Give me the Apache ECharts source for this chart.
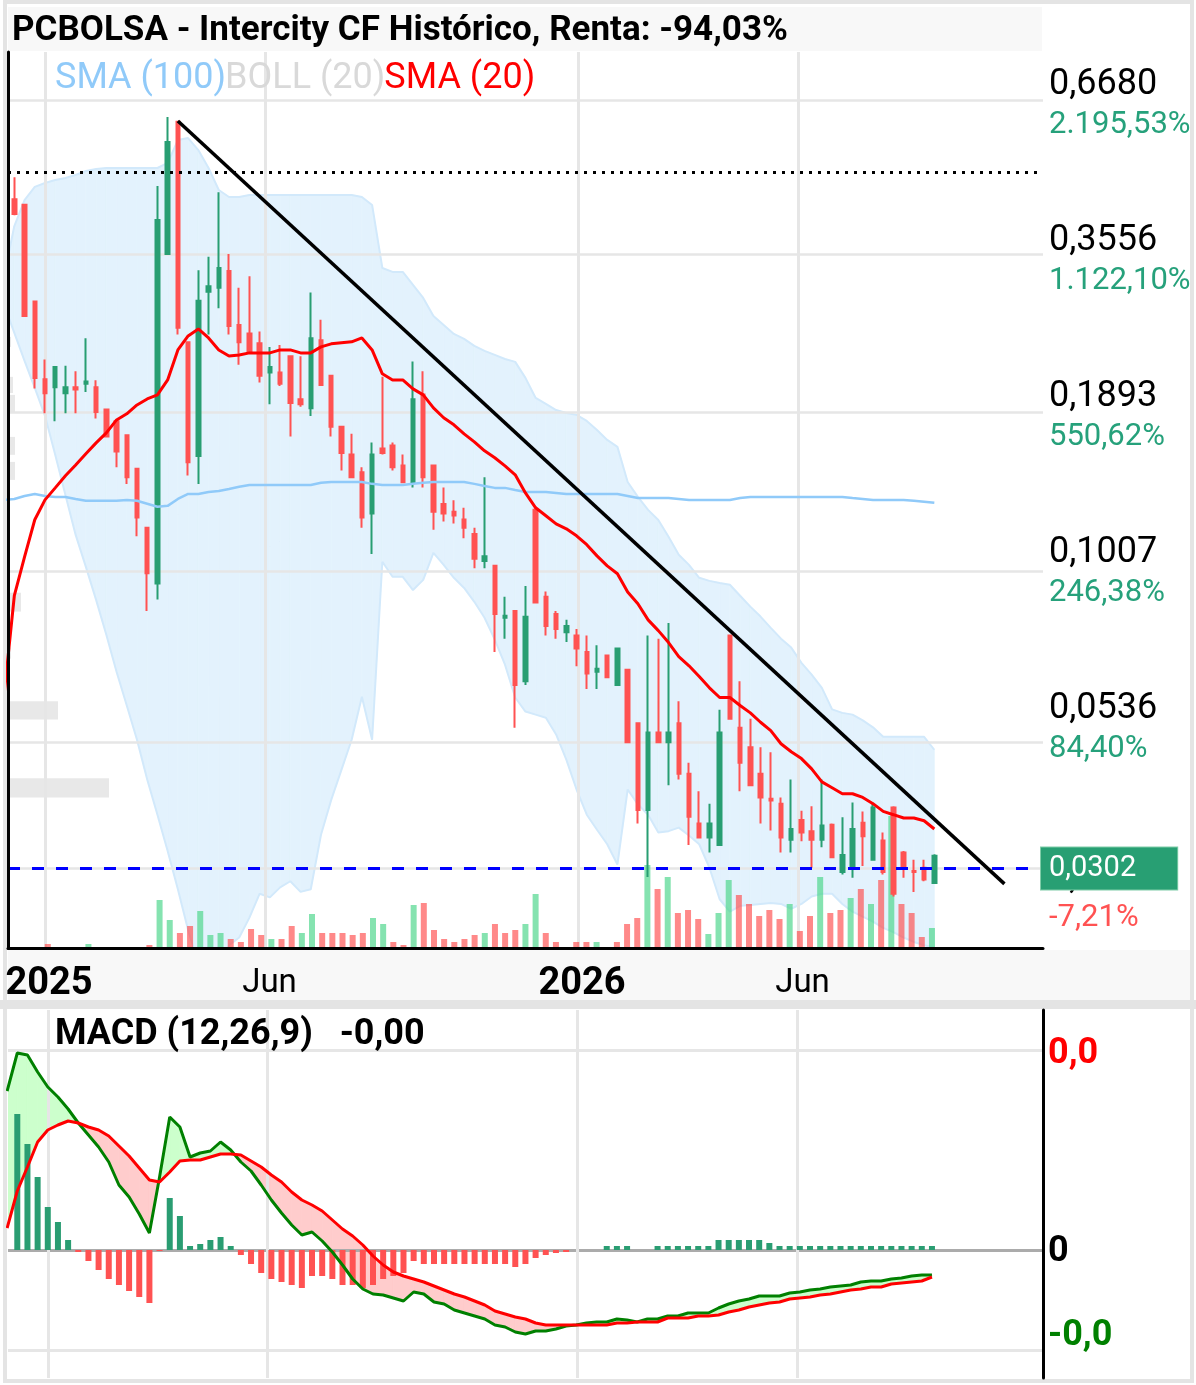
<!DOCTYPE html>
<html><head><meta charset="utf-8">
<script src="https://cdn.jsdelivr.net/npm/echarts@6/dist/echarts.min.js"></script>
<style>html,body{margin:0;padding:0;background:#fff}#c{width:1196px;height:1385px}</style>
</head><body><div id="c"></div>
<script>
// ================= DATA =================
const titleText = 'PCBOLSA - Intercity CF Histórico, Renta: -94,03%';
const macdTitle = 'MACD (12,26,9)   -0,00';
const firstWeek = [2024, 12, 4];   // first weekly bar (just left of the visible window)
const weekCount = 92;              // weekly bars incl. that hidden one

// weekly OHLC (visible bars, from week of 2024-12-11)
const openP = [0.449,0.439,0.297,0.217,0.210,0.205,0.210,0.213,0.210,0.192,
 0.183,0.173,0.151,0.119,0.095,0.360,0.614,0.252,0.159,0.309,
 0.314,0.336,0.270,0.261,0.251,0.223,0.223,0.238,0.200,0.193,
 0.254,0.220,0.179,0.160,0.149,0.126,0.164,0.166,0.153,0.143,
 0.204,0.153,0.131,0.127,0.123,0.116,0.104,0.102,0.0827,0.085,
 0.064,0.128,0.090,0.084,0.078,0.077,0.072,0.0665,0.071,0.063,
 0.067,0.054,0.038,0.052,0.050,0.054,0.044,0.036,0.034,0.033,
 0.077,0.053,0.049,0.044,0.0398,0.039,0.0337,0.0365,0.0349,0.0337,
 0.0358,0.0296,0.0301,0.0361,0.0311,0.0336,0.0384,0.0320,0.0297,0.0301,
 0.0283];
const closeP = [0.423,0.280,0.218,0.205,0.228,0.210,0.208,0.215,0.190,0.172,
 0.162,0.146,0.124,0.099,0.413,0.566,0.267,0.155,0.298,0.316,
 0.340,0.269,0.252,0.242,0.220,0.228,0.213,0.197,0.196,0.256,
 0.212,0.179,0.161,0.146,0.124,0.160,0.161,0.152,0.143,0.200,
 0.146,0.127,0.126,0.125,0.119,0.105,0.106,0.084,0.0834,0.063,
 0.083,0.088,0.080,0.079,0.080,0.073,0.066,0.0673,0.065,0.073,
 0.050,0.038,0.052,0.050,0.052,0.044,0.037,0.034,0.036,0.052,
 0.055,0.046,0.042,0.040,0.0395,0.034,0.0352,0.0347,0.0337,0.0357,
 0.0314,0.0317,0.0352,0.0342,0.0384,0.0296,0.0271,0.0300,0.0296,0.0287,
 0.0316];
const lowP = [0.421,0.280,0.209,0.189,0.183,0.189,0.189,0.206,0.185,0.172,
 0.152,0.142,0.115,0.085,0.089,0.360,0.260,0.147,0.142,0.260,
 0.289,0.260,0.230,0.242,0.214,0.196,0.211,0.172,0.194,0.187,
 0.211,0.172,0.150,0.146,0.119,0.107,0.160,0.150,0.143,0.140,
 0.140,0.118,0.122,0.121,0.114,0.101,0.101,0.072,0.076,0.053,
 0.063,0.088,0.077,0.076,0.075,0.068,0.062,0.062,0.065,0.063,
 0.050,0.036,0.029,0.050,0.042,0.043,0.033,0.034,0.032,0.033,
 0.055,0.041,0.042,0.036,0.035,0.032,0.032,0.0335,0.0301,0.0327,
 0.0314,0.0293,0.0289,0.0303,0.0311,0.0293,0.0268,0.0289,0.0273,0.0285,
 0.0283];
const highP = [0.491,0.439,0.297,0.235,0.228,0.229,0.224,0.256,0.216,0.192,
 0.183,0.173,0.151,0.119,0.474,0.626,0.616,0.252,0.337,0.356,
 0.462,0.360,0.314,0.329,0.263,0.247,0.249,0.238,0.238,0.308,
 0.276,0.220,0.179,0.174,0.152,0.168,0.219,0.168,0.160,0.233,
 0.224,0.153,0.140,0.133,0.129,0.119,0.146,0.102,0.090,0.085,
 0.094,0.129,0.092,0.085,0.082,0.079,0.077,0.074,0.071,0.073,
 0.067,0.054,0.077,0.076,0.081,0.059,0.046,0.041,0.039,0.057,
 0.077,0.064,0.055,0.049,0.048,0.040,0.043,0.0379,0.0386,0.0430,
 0.0360,0.0369,0.0392,0.0378,0.0392,0.0347,0.0386,0.0322,0.0311,0.0311,
 0.0318];

// weekly volume (relative units) and its colour (1 = up, 0 = down)
const volume = [0,0,0,4,0,0,0,4,0,0,
 0,0,0,3,48,28,15,22,37,13,
 15,9,6,19,13,9,9,22,15,34,
 15,15,15,13,15,30,24,6,3,43,
 45,18,9,6,9,13,15,24,15,18,
 24,54,15,6,0,6,6,6,0,6,
 24,30,83,59,71,35,38,29,14,35,
 68,53,44,32,38,29,44,17,32,71,
 35,38,50,59,44,68,132,44,35,11,
 20];
const volumeUp = [0,0,0,0,0,0,0,1,0,0,
 0,0,0,0,1,1,0,0,1,1,
 1,0,0,0,0,1,0,0,1,1,
 0,0,0,0,0,1,1,0,0,1,
 0,0,0,0,0,0,1,0,0,0,
 1,1,0,0,0,0,0,1,0,0,
 0,0,1,0,1,0,0,0,1,1,
 1,0,0,0,0,0,1,0,0,1,
 0,0,1,0,1,0,1,0,0,0,
 1];

// indicators (all weeks, incl. the hidden first one)
const sma20 = [.0605,.0904,.1058,.1229,.1332,.1398,.1468,.1534,.1605,.1677,
 .1746,.1840,.1886,.1955,.2003,.2036,.2163,.2442,.2584,.2658,
 .2563,.2442,.2383,.2393,.2413,.2413,.2413,.2442,.2442,.2413,
 .2413,.2472,.2503,.2513,.2523,.2563,.2442,.2217,.2163,.2163,
 .2086,.2036,.1932,.1856,.1804,.1739,.1684,.1624,.1579,.1528,
 .1474,.1370,.1290,.1249,.1209,.1185,.1152,.1111,.1062,.1020,
 .0988,.0918,.0875,.0820,.0785,.0748,.0707,.0681,.0652,.0623,
 .0599,.0599,.0580,.0563,.0542,.0524,.0497,.0481,.0468,.0449,
 .0426,.0416,.0406,.0406,.0400,.0390,.0378,.0373,.0368,.0368,
 .0364,.0352];
const sma100 = [.1331,.1337,.1353,.1364,.1353,.1348,.1348,.1337,.1327,.1327,
 .1327,.1327,.1331,.1327,.1311,.1295,.1300,.1337,.1364,.1364,
 .1375,.1381,.1392,.1404,.1415,.1415,.1415,.1415,.1415,.1415,
 .1415,.1427,.1432,.1432,.1432,.1432,.1421,.1415,.1415,.1415,
 .1421,.1427,.1432,.1432,.1432,.1432,.1421,.1409,.1398,.1398,
 .1386,.1375,.1375,.1375,.1370,.1364,.1364,.1364,.1364,.1364,
 .1364,.1353,.1342,.1342,.1342,.1342,.1337,.1331,.1331,.1331,
 .1331,.1331,.1342,.1348,.1348,.1348,.1348,.1348,.1348,.1348,
 .1348,.1348,.1348,.1342,.1337,.1331,.1331,.1331,.1331,.1327,
 .1322,.1316];
const bollUpper = [.3294,.4030,.4476,.4721,.4796,.4853,.4893,.4953,.5034,.5074,
 .5095,.5095,.5095,.5095,.5095,.5095,.5200,.5704,.5751,.5478,
 .5095,.4661,.4532,.4532,.4569,.4569,.4569,.4569,.4569,.4569,
 .4569,.4569,.4569,.4569,.4569,.4532,.4388,.3401,.3348,.3348,
 .3176,.3013,.2802,.2702,.2605,.2553,.2482,.2432,.2393,.2354,
 .2327,.2181,.2011,.1963,.1915,.1893,.1878,.1833,.1767,.1697,
 .1650,.1432,.1348,.1279,.1228,.1147,.1067,.1024,.0972,.0960,
 .0952,.0945,.0904,.0865,.0831,.0794,.0760,.0733,.0689,.0657,
 .0623,.0571,.0563,.0559,.0546,.0531,.0511,.0511,.0511,.0511,
 .0511,.0485];
const bollLower = [.2929,.2616,.2336,.2095,.1871,.1598,.1359,.1156,.1016,.0889,
 .0772,.0665,.0580,.0505,.0430,.0373,.0322,.0276,.0234,.0204,
 .0192,.0200,.0220,.0227,.0246,.0271,.0267,.0278,.0285,.0273,
 .0276,.0344,.0396,.0447,.0505,.0601,.0505,.1037,.0976,.0976,
 .0925,.0964,.1075,.1024,.0972,.0933,.0882,.0827,.0757,.0684,
 .0599,.0566,.0559,.0552,.0516,.0466,.0413,.0373,.0351,.0331,
 .0305,.0413,.0389,.0373,.0347,.0349,.0354,.0343,.0331,.0301,
 .0265,.0252,.0258,.0259,.0260,.0261,.0260,.0255,.0260,.0268,
 .0271,.0271,.0260,.0252,.0247,.0242,.0236,.0232,.0227,.0223,
 .0220,.0218];
const macdLine = [.0318,.0394,.0390,.0356,.0326,.0306,.0282,.0254,.0230,.0206,
 .0176,.0130,.0106,.0072,.0034,.0146,.0266,.0246,.0186,.0194,
 .0198,.0216,.0200,.0176,.0158,.0130,.0100,.0074,.0050,.0030,
 .0036,.0018,-.0004,-.0030,-.0058,-.0078,-.0088,-.0090,-.0096,-.0102,
 -.0084,-.0088,-.0104,-.0108,-.0120,-.0126,-.0132,-.0138,-.0150,-.0154,
 -.0164,-.0168,-.0162,-.0162,-.0158,-.0152,-.0150,-.0146,-.0144,-.0144,
 -.0138,-.0140,-.0144,-.0138,-.0138,-.0132,-.0132,-.0126,-.0126,-.0126,
 -.0116,-.0108,-.0102,-.0098,-.0092,-.0092,-.0092,-.0086,-.0084,-.0080,
 -.0078,-.0074,-.0072,-.0070,-.0064,-.0062,-.0062,-.0058,-.0056,-.0052,
 -.0050,-.0050];
const signalLine = [.0044,.0118,.0166,.0216,.0240,.0250,.0258,.0254,.0246,.0240,
 .0228,.0208,.0188,.0164,.0140,.0136,.0156,.0178,.0180,.0180,
 .0186,.0192,.0192,.0190,.0178,.0166,.0150,.0136,.0116,.0100,
 .0090,.0078,.0060,.0042,.0028,.0010,-.0012,-.0030,-.0044,-.0052,
 -.0058,-.0064,-.0072,-.0080,-.0088,-.0094,-.0102,-.0110,-.0122,-.0128,
 -.0134,-.0138,-.0146,-.0150,-.0150,-.0150,-.0150,-.0150,-.0150,-.0150,
 -.0146,-.0146,-.0144,-.0144,-.0144,-.0136,-.0136,-.0136,-.0132,-.0132,
 -.0130,-.0124,-.0120,-.0114,-.0110,-.0106,-.0104,-.0098,-.0096,-.0094,
 -.0090,-.0088,-.0084,-.0080,-.0078,-.0074,-.0074,-.0068,-.0066,-.0064,
 -.0062,-.0054];
// MACD histogram (visible bars)
const macdHist = [.0272,.0212,.0146,.0086,.0056,.0020,-.0004,-.0022,-.0040,-.0058,
 -.0070,-.0082,-.0094,-.0106,-.0002,.0104,.0068,.0008,.0012,.0020,
 .0026,.0008,-.0010,-.0028,-.0046,-.0058,-.0064,-.0070,-.0076,-.0052,
 -.0052,-.0058,-.0070,-.0070,-.0076,-.0070,-.0058,-.0052,-.0046,-.0022,
 -.0028,-.0028,-.0028,-.0028,-.0028,-.0028,-.0028,-.0028,-.0028,-.0034,
 -.0028,-.0016,-.0010,-.0006,-.0004,0,0,0,.0008,.0008,
 .0008,0,0,.0008,.0008,.0008,.0008,.0008,.0008,.0020,
 .0020,.0020,.0020,.0020,.0014,.0008,.0008,.0008,.0008,.0008,
 .0008,.0008,.0008,.0008,.0008,.0008,.0008,.0008,.0008,.0008,
 .0008];

// volume-by-price profile (price bins and relative volume)
const vpHigh = [.5704,.4097,.3001,.2574,.2462,.2190,.2036,.1718,.1553,.1398,.1228,.1075,.0915,.0733,.0590,.0432];
const vpLow  = [.5305,.3808,.2779,.2472,.2317,.2052,.1893,.1598,.1444,.1295,.1133,.1004,.0848,.0701,.0548,.0400];
const vpVol  = [2,2,2,3,2,5,7,7,7,2,1,2,13,3,50,101];

// trend line (two anchor points), reference levels
const trendDates = ['2025-04-02', '2026-10-20'];
const trendValues = [0.616, 0.0282];
const lastPrice = 0.0302;
const refLevel = 0.5034;

// axis ticks
const priceTicks = [0.6680, 0.3556, 0.1893, 0.1007, 0.0536, 0.0270];
const pctLabels = ['2.195,53%', '1.122,10%', '550,62%', '246,38%', '84,40%', '-7,21%'];
const xTickDates = ['2025-01-01', '2025-06-01', '2026-01-01', '2026-06-01'];
const xTickLabels = ['2025', 'Jun', '2026', 'Jun'];
const macdTicks = [0.0396, 0, -0.0168];

// ================= BUILD =================
const UP = '#289E72', DOWN = '#FF5252';
function ts(s) { const p = s.split('-').map(Number); return new Date(p[0], p[1] - 1, p[2]).getTime(); }
const weeks = [];
for (let k = 0; k < weekCount; k++) weeks.push(new Date(firstWeek[0], firstWeek[1] - 1, firstWeek[2] + 7 * k).getTime());
const barDates = weeks.slice(1);
const xMin = new Date(2024, 11, 6, 16).getTime();
const xMax = new Date(2026, 10, 15, 10).getTime();
const fmt4 = v => v.toFixed(4).replace('.', ',');
const macdFmt = v => v === 0 ? '0' : v.toFixed(1).replace('.', ',');

const pair = arr => arr.map((v, i) => [weeks[i], v]);
const segs = (a, b) => a.slice(0, -1).map((v, i) => [weeks[i], v, b[i], weeks[i + 1], a[i + 1], b[i + 1]]);

const mainMarks = priceTicks.map(v => ({
  yAxis: v, lineStyle: { color: '#E6E6E6', width: 2.5, type: 'solid' }, label: { show: false }
})).concat(xTickDates.map((d, i) => ({
  xAxis: ts(d),
  lineStyle: { color: '#E6E6E6', width: 3, type: 'solid' },
  label: { show: true, position: 'start', distance: 16, offset: [4, 0], formatter: '{' + (/^\d+$/.test(xTickLabels[i]) ? 'y' : 'm') + '|' + xTickLabels[i] + '}' }
})));

const macdMarks = macdTicks.map(v => ({
  yAxis: v, lineStyle: { color: v === 0 ? '#ABABAB' : '#E6E6E6', width: 3, type: 'solid' }, label: { show: false }
})).concat(xTickDates.map(d => ({
  xAxis: ts(d), lineStyle: { color: '#E6E6E6', width: 3, type: 'solid' }, label: { show: false }
})));

const txt = (x, y, text, size, color, weight) => ({
  type: 'text', x: x, y: y, silent: true,
  style: { text: text, fill: color, fontSize: size, fontFamily: 'Roboto', fontWeight: weight || 'normal', align: 'left', verticalAlign: 'middle' }
});

const option = {
  animation: false,
  backgroundColor: '#ffffff',
  textStyle: { fontFamily: 'Roboto' },
  title: [
    { text: titleText, left: 12, top: 14, padding: 0, textStyle: { fontSize: 35, fontWeight: 'bold', color: '#000', fontFamily: 'Roboto' } },
    { text: macdTitle, left: 55, top: 1017, padding: 0, textStyle: { fontSize: 36, fontWeight: 'bold', color: '#000', fontFamily: 'Roboto' } }
  ],
  legend: {
    left: 50, top: 61, padding: 0, itemGap: -6, itemWidth: 0, itemHeight: 0, selectedMode: false, icon: 'none',
    textStyle: { fontSize: 36, fontFamily: 'Roboto' },
    data: [
      { name: 'SMA (100)', icon: 'none', textStyle: { color: '#90CAF9' } },
      { name: 'BOLL (20)', icon: 'none', textStyle: { color: '#D9D9D9' } },
      { name: 'SMA (20)', icon: 'none', textStyle: { color: '#FF0000' } }
    ]
  },
  graphic: [
    { type: 'rect', z: 0, silent: true, shape: { x: 8, y: 7, width: 1034, height: 44 }, style: { fill: '#F8F8F8' } },
    { type: 'rect', z: 0, silent: true, shape: { x: 8, y: 950, width: 1183, height: 50 }, style: { fill: '#F8F8F8' } },
    { type: 'rect', z: 0, silent: true, shape: { x: 0, y: 1000, width: 1196, height: 9 }, style: { fill: '#E4E4E4' } },
    { type: 'rect', z: 0, silent: true, shape: { x: 5, y: 2, width: 1187, height: 1379 }, style: { fill: 'none', stroke: '#E4E4E4', lineWidth: 4 } }
  ],
  grid: [
    { left: 8, top: 52, width: 1035, height: 896 },
    { left: 8, top: 748, width: 1035, height: 200 },
    { left: 8, top: 1010, width: 1035, height: 368 }
  ],
  xAxis: [
    { type: 'time', gridIndex: 0, min: xMin, max: xMax, z: 10,
      axisLine: { show: true, onZero: false, lineStyle: { color: '#000', width: 3 } },
      axisTick: { show: false }, axisLabel: { show: false }, splitLine: { show: false } },
    { type: 'time', gridIndex: 1, min: xMin, max: xMax, show: false },
    { type: 'time', gridIndex: 2, min: xMin, max: xMax, axisLine: { show: false }, axisTick: { show: false }, axisLabel: { show: false }, splitLine: { show: false } },
    { type: 'value', gridIndex: 0, min: 0, max: 1035, show: false }
  ],
  yAxis: [
    { type: 'log', gridIndex: 0, position: 'right', min: 0.02176, max: 0.8144, logBase: 10, z: 10,
      axisLine: { show: true, lineStyle: { color: '#000', width: 3 } },
      axisTick: { show: false }, axisLabel: { show: false }, splitLine: { show: false } },
    { type: 'value', gridIndex: 1, min: 0, max: 200, show: false },
    { type: 'value', gridIndex: 2, position: 'right', min: -0.0256, max: 0.048, z: 10,
      axisLine: { show: true, onZero: false, lineStyle: { color: '#000', width: 3 } },
      axisTick: { show: false }, axisLabel: { show: false }, splitLine: { show: false } }
  ],
  series: [
    { // Bollinger band fill
      type: 'custom', name: 'BOLL (20)', xAxisIndex: 0, yAxisIndex: 0, z: 1, clip: true, silent: true,
      data: segs(bollUpper, bollLower), encode: { x: [0, 3], y: [1, 2, 4, 5] },
      renderItem: (params, api) => {
        const a = api.coord([api.value(0), api.value(1)]), b = api.coord([api.value(3), api.value(4)]);
        const c = api.coord([api.value(3), api.value(5)]), d = api.coord([api.value(0), api.value(2)]);
        return { type: 'polygon', shape: { points: [a, b, c, d] }, style: { fill: '#E3F2FD', stroke: '#E3F2FD', lineWidth: 0.8 } };
      }
    },
    { type: 'line', name: 'bollUp', xAxisIndex: 0, yAxisIndex: 0, z: 1.1, data: pair(bollUpper), showSymbol: false, silent: true,
      lineStyle: { color: '#D2E9FB', width: 2 } },
    { type: 'line', name: 'bollLow', xAxisIndex: 0, yAxisIndex: 0, z: 1.1, data: pair(bollLower), showSymbol: false, silent: true,
      lineStyle: { color: '#D2E9FB', width: 2 } },
    { // volume profile
      type: 'custom', name: 'vp', xAxisIndex: 3, yAxisIndex: 0, z: 1.05, silent: true, clip: true,
      data: vpVol.map((v, i) => [v, vpHigh[i], vpLow[i]]), encode: { x: 0, y: [1, 2] },
      renderItem: (params, api) => {
        const p1 = api.coord([0, api.value(1)]), p2 = api.coord([api.value(0), api.value(2)]);
        return { type: 'rect', shape: { x: p1[0], y: p1[1], width: p2[0] - p1[0], height: p2[1] - p1[1] }, style: { fill: '#E8E8E8' } };
      }
    },
    { // price axis labels (value + % change), placed through the axis scale
      type: 'custom', name: 'priceLabels', xAxisIndex: 0, yAxisIndex: 0, z: 1.2, silent: true, clip: false,
      data: priceTicks.map(v => [xMax, v]), encode: { x: 0, y: 1 },
      renderItem: (params, api) => {
        const p = api.coord([api.value(0), api.value(1)]);
        const pct = pctLabels[params.dataIndex];
        return { type: 'group', children: [
          txt(p[0] + 6, p[1] - 16, fmt4(api.value(1)), 36, '#000'),
          txt(p[0] + 6, p[1] + 24, pct, 31, pct[0] === '-' ? '#FF5252' : '#26A17B')
        ] };
      }
    },
    { // volume
      type: 'bar', name: 'vol', xAxisIndex: 1, yAxisIndex: 1, z: 2, barWidth: 6, silent: true,
      data: volume.map((v, i) => ({ value: [barDates[i], v], itemStyle: { color: volumeUp[i] ? 'rgba(70,212,135,0.66)' : 'rgba(255,70,70,0.64)' } }))
    },
    { // candles
      type: 'candlestick', name: 'price', xAxisIndex: 0, yAxisIndex: 0, z: 3, barWidth: 4, clip: true, silent: true,
      encode: { x: 0, y: [1, 2, 3, 4] },
      data: barDates.map((t, i) => [t, openP[i], closeP[i], lowP[i], highP[i]]),
      itemStyle: { color: UP, color0: DOWN, borderColor: UP, borderColor0: DOWN, borderWidth: 2 },
      markLine: {
        silent: true, symbol: ['none', 'none'], z: 6, animation: false,
        data: [
          { yAxis: refLevel, lineStyle: { color: '#000', width: 3, type: [3, 6] }, label: { show: false } },
          { yAxis: lastPrice, lineStyle: { color: '#0000FF', width: 3, type: [12, 12] },
            label: { show: true, position: 'end', distance: -2, formatter: fmt4(lastPrice), color: '#fff', fontSize: 29, lineHeight: 30,
              fontFamily: 'Roboto', backgroundColor: '#289F73', borderColor: '#7FCCA8', borderWidth: 1, padding: [6, 41, 6, 8] } }
        ]
      }
    },
    { type: 'line', name: 'SMA (100)', xAxisIndex: 0, yAxisIndex: 0, z: 4, data: pair(sma100), showSymbol: false, silent: true,
      color: '#90CAF9', lineStyle: { color: '#90CAF9', width: 2.5 },
      markLine: {
        silent: true, symbol: ['none', 'none'], z: 1.2, animation: false,
        label: { show: false,
          rich: {
            y: { fontSize: 38, fontWeight: 'bold', color: '#000', lineHeight: 40, fontFamily: 'Roboto' },
            m: { fontSize: 33, color: '#000', lineHeight: 40, fontFamily: 'Roboto' }
          } },
        data: mainMarks
      }
    },
    { type: 'line', name: 'SMA (20)', xAxisIndex: 0, yAxisIndex: 0, z: 4, data: pair(sma20), showSymbol: false, silent: true,
      color: '#FF0000', lineStyle: { color: '#FF0000', width: 3 } },
    { type: 'line', name: 'trend', xAxisIndex: 0, yAxisIndex: 0, z: 5, showSymbol: false, silent: true,
      data: trendDates.map((d, i) => [ts(d), trendValues[i]]), lineStyle: { color: '#000', width: 3.5 } },

    // ---- MACD panel ----
    { type: 'custom', name: 'macdFill', xAxisIndex: 2, yAxisIndex: 2, z: 1, clip: true, silent: true,
      data: segs(macdLine, signalLine), encode: { x: [0, 3], y: [1, 2, 4, 5] },
      renderItem: (params, api) => {
        const t0 = api.value(0), m0 = api.value(1), s0 = api.value(2), t1 = api.value(3), m1 = api.value(4), s1 = api.value(5);
        const P0 = api.coord([t0, m0]), P1 = api.coord([t1, m1]), Q0 = api.coord([t0, s0]), Q1 = api.coord([t1, s1]);
        const d0 = m0 - s0, d1 = m1 - s1;
        const col = d => d >= 0 ? '#CCFFCC' : '#FFCCCC';
        const poly = (pts, c) => ({ type: 'polygon', shape: { points: pts }, style: { fill: c, stroke: c, lineWidth: 0.8 } });
        if (d0 * d1 >= 0) return { type: 'group', children: [poly([P0, P1, Q1, Q0], col(d0 + d1))] };
        const f = d0 / (d0 - d1);
        const C = [P0[0] + f * (P1[0] - P0[0]), P0[1] + f * (P1[1] - P0[1])];
        return { type: 'group', children: [poly([P0, C, Q0], col(d0)), poly([C, P1, Q1], col(d1))] };
      }
    },
    { type: 'custom', name: 'macdLabels', xAxisIndex: 2, yAxisIndex: 2, z: 1.5, silent: true, clip: false,
      data: macdTicks.map(v => [xMax, v]), encode: { x: 0, y: 1 },
      renderItem: (params, api) => {
        const v = api.value(1), p = api.coord([api.value(0), v]);
        return txt(p[0] + 8, p[1] + 2, macdFmt(v), 36, v > 0 ? '#FF0000' : v < 0 ? '#008000' : '#000', 'bold');
      }
    },
    { type: 'bar', name: 'hist', xAxisIndex: 2, yAxisIndex: 2, z: 2, barWidth: 6, silent: true,
      data: macdHist.map((v, i) => ({ value: [barDates[i], v], itemStyle: { color: v >= 0 ? '#2A9D72' : '#FF5252' } })),
      markLine: { silent: true, symbol: ['none', 'none'], z: 1.5, animation: false, label: { show: false }, data: macdMarks }
    },
    { type: 'line', name: 'MACD', xAxisIndex: 2, yAxisIndex: 2, z: 3, data: pair(macdLine), showSymbol: false, silent: true,
      lineStyle: { color: '#008000', width: 3 } },
    { type: 'line', name: 'Signal', xAxisIndex: 2, yAxisIndex: 2, z: 3, data: pair(signalLine), showSymbol: false, silent: true,
      lineStyle: { color: '#FF0000', width: 3 } }
  ]
};

const chart = echarts.init(document.getElementById('c'));
chart.setOption(option);
</script>
</body></html>
